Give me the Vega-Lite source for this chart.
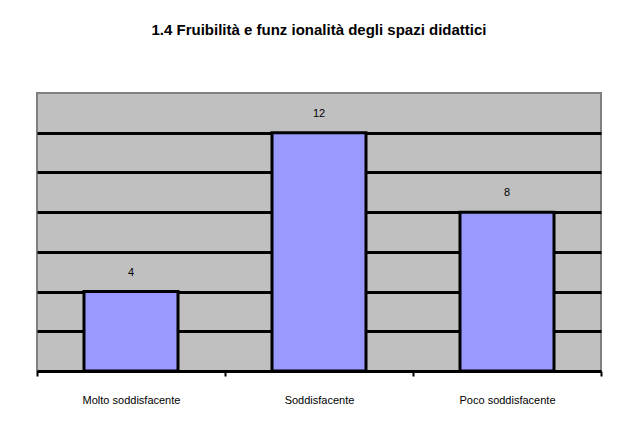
{
  "$schema": "https://vega.github.io/schema/vega-lite/v6.json",
  "autosize": "none",
  "width": 564,
  "height": 278,
  "padding": {"left": 37, "top": 93, "right": 22, "bottom": 66},
  "background": "white",
  "title": {
    "text": "1.4 Fruibilità e funz ionalità degli spazi didattici",
    "font": "Liberation Sans",
    "fontSize": 15,
    "fontWeight": "bold",
    "color": "black",
    "anchor": "middle",
    "offset": 55
  },
  "config": {
    "view": {"fill": "#C0C0C0", "stroke": "#808080", "strokeWidth": 2},
    "font": "Liberation Sans"
  },
  "data": {
    "values": [
      {"categoria": "Molto soddisfacente", "valore": 4},
      {"categoria": "Soddisfacente", "valore": 12},
      {"categoria": "Poco soddisfacente", "valore": 8}
    ]
  },
  "encoding": {
    "x": {
      "field": "categoria",
      "type": "nominal",
      "sort": null,
      "scale": {"paddingInner": 0, "paddingOuter": 0},
      "axis": {
        "title": null,
        "labelAngle": 0,
        "labelFontSize": 11,
        "labelColor": "black",
        "labelPadding": 18,
        "domainColor": "black",
        "domainWidth": 3,
        "tickColor": "black",
        "tickWidth": 2,
        "tickSize": 5,
        "tickBand": "extent"
      }
    },
    "y": {
      "field": "valore",
      "type": "quantitative",
      "scale": {"domain": [0, 14], "nice": false},
      "axis": {
        "title": null,
        "values": [2, 4, 6, 8, 10, 12],
        "grid": true,
        "gridColor": "black",
        "gridWidth": 3,
        "gridOpacity": 1,
        "labels": false,
        "ticks": false,
        "domain": false
      }
    }
  },
  "layer": [
    {
      "mark": {"type": "bar", "width": {"band": 0.5}, "fill": "#9999FF", "stroke": "black", "strokeWidth": 3}
    },
    {
      "mark": {"type": "text", "baseline": "bottom", "dy": -14, "fontSize": 11, "color": "black"},
      "encoding": {"text": {"field": "valore", "type": "quantitative"}}
    }
  ]
}
